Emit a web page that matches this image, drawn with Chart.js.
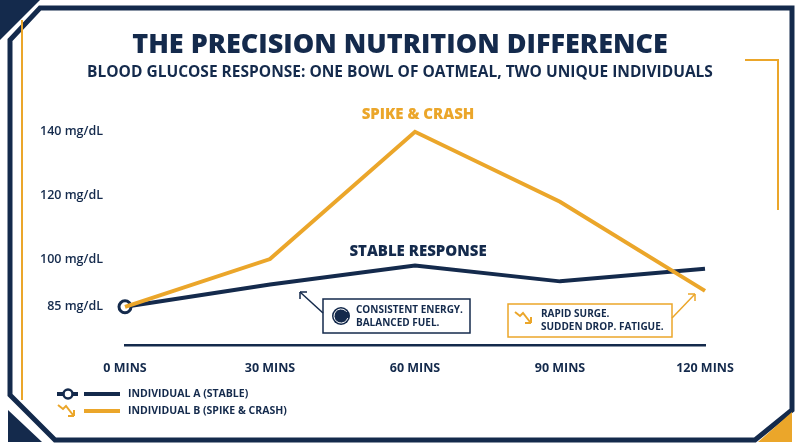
<!DOCTYPE html>
<html lang="en">
<head>
<meta charset="UTF-8" />
<script src="https://cdn.jsdelivr.net/npm/chart.js@4.4.1/dist/chart.umd.min.js"></script>
<style>
  html, body { margin: 0; padding: 0; background: #fff; }
  #wrap { width: 800px; height: 447px; position: relative; }
</style>
</head>
<body>
<div id="wrap"><canvas id="grafico"></canvas></div>
<script>
  var minutos = ['0 MINS', '30 MINS', '60 MINS', '90 MINS', '120 MINS'];
  var individuoA = [85, 92, 98, 93, 97];
  var individuoB = [85, 100, 140, 118, 90];
  var ticksY = [85, 100, 120, 140];

  var NAVY = '#142a4c';
  var GOLD = '#eba62a';
  var FONT = '"Open Sans", Lato, sans-serif';

  // moldura, titulos, anotacoes e legenda
  var decoracao = {
    id: 'decoracao',
    beforeDraw: function (chart) {
      var c = chart.ctx;
      c.save();
      c.fillStyle = '#fff';
      c.fillRect(0, 0, 800, 447);
      // moldura azul
      c.strokeStyle = NAVY;
      c.lineWidth = 5;
      c.beginPath();
      c.moveTo(40, 8); c.lineTo(792, 8); c.lineTo(792, 410); c.lineTo(755, 440);
      c.lineTo(55, 440); c.lineTo(10, 395); c.lineTo(10, 40); c.closePath();
      c.stroke();
      c.fillStyle = NAVY;
      c.beginPath(); c.moveTo(0, 0); c.lineTo(40, 0); c.lineTo(0, 40); c.fill();
      c.beginPath(); c.moveTo(8, 410); c.lineTo(8, 442); c.lineTo(42, 442); c.fill();
      c.fillStyle = GOLD;
      c.beginPath(); c.moveTo(792, 412); c.lineTo(792, 442); c.lineTo(758, 442); c.fill();
      // linhas douradas
      c.strokeStyle = GOLD;
      c.lineWidth = 2;
      c.beginPath(); c.moveTo(22, 20); c.lineTo(22, 400); c.stroke();
      c.beginPath(); c.moveTo(745, 60); c.lineTo(778, 60); c.lineTo(778, 210); c.stroke();
      c.restore();
    },
    afterDatasetsDraw: function (chart) {
      var c = chart.ctx;
      c.save();
      c.textAlign = 'center';
      c.textBaseline = 'middle';
      c.fillStyle = NAVY;
      c.font = '800 27px ' + FONT;
      c.fillText('THE PRECISION NUTRITION DIFFERENCE', 400, 45);
      c.font = '700 15.5px ' + FONT;
      c.fillText('BLOOD GLUCOSE RESPONSE: ONE BOWL OF OATMEAL, TWO UNIQUE INDIVIDUALS', 400, 73);
      c.font = '800 15px ' + FONT;
      c.fillText('STABLE RESPONSE', 418, 252);
      c.fillStyle = GOLD;
      c.fillText('SPIKE & CRASH', 418, 115);

      // caixa azul
      c.strokeStyle = NAVY; c.lineWidth = 1.5;
      c.strokeRect(323, 299, 147, 34);
      c.beginPath(); c.moveTo(323, 313); c.lineTo(300, 292); c.stroke();
      c.beginPath(); c.moveTo(300, 292); c.lineTo(300, 299); c.moveTo(300, 292); c.lineTo(307, 292); c.stroke();
      c.fillStyle = NAVY;
      c.beginPath(); c.arc(341, 316, 9, 0, Math.PI * 2); c.fill();
      c.strokeStyle = '#fff'; c.lineWidth = 1;
      c.beginPath(); c.arc(341, 316, 7, 0.3, Math.PI * 1.8); c.stroke();
      c.textAlign = 'left';
      c.font = '700 10px ' + FONT;
      c.fillText('CONSISTENT ENERGY.', 356, 310);
      c.fillText('BALANCED FUEL.', 356, 323);

      // caixa dourada
      c.strokeStyle = GOLD; c.lineWidth = 1.5;
      c.strokeRect(508, 304, 164, 33);
      c.beginPath(); c.moveTo(672, 318); c.lineTo(695, 294); c.stroke();
      c.beginPath(); c.moveTo(695, 294); c.lineTo(688, 294); c.moveTo(695, 294); c.lineTo(695, 301); c.stroke();
      zigue(c, 515, 312);
      c.fillStyle = NAVY;
      c.fillText('RAPID SURGE.', 541, 314);
      c.fillText('SUDDEN DROP. FATIGUE.', 541, 327);

      // legenda
      c.strokeStyle = NAVY; c.lineWidth = 4;
      c.beginPath(); c.moveTo(57, 394); c.lineTo(78, 394); c.moveTo(84, 394); c.lineTo(120, 394); c.stroke();
      c.fillStyle = '#fff'; c.lineWidth = 2.5;
      c.beginPath(); c.arc(68, 394, 4.5, 0, Math.PI * 2); c.fill(); c.stroke();
      c.strokeStyle = GOLD; c.lineWidth = 4;
      c.beginPath(); c.moveTo(84, 411); c.lineTo(120, 411); c.stroke();
      zigue(c, 58, 405);
      c.fillStyle = NAVY;
      c.font = '700 10.5px ' + FONT;
      c.fillText('INDIVIDUAL A (STABLE)', 128, 394);
      c.fillText('INDIVIDUAL B (SPIKE & CRASH)', 128, 411);
      c.restore();
    }
  };

  function zigue(c, x, y) {
    c.save();
    c.strokeStyle = GOLD; c.lineWidth = 2;
    c.beginPath();
    c.moveTo(x, y); c.lineTo(x + 5, y + 4); c.lineTo(x + 8, y + 1); c.lineTo(x + 15, y + 10);
    c.stroke();
    c.beginPath();
    c.moveTo(x + 16, y + 11); c.lineTo(x + 10, y + 11); c.moveTo(x + 16, y + 11); c.lineTo(x + 16, y + 5);
    c.stroke();
    c.restore();
  }

  var chart = new Chart(document.getElementById('grafico'), {
    type: 'line',
    data: {
      labels: minutos,
      datasets: [
        {
          label: 'Individual B (Spike & Crash)',
          data: individuoB,
          borderColor: GOLD,
          borderWidth: 4,
          pointRadius: 0,
          tension: 0
        },
        {
          label: 'Individual A (Stable)',
          data: individuoA,
          borderColor: NAVY,
          borderWidth: 4,
          pointRadius: [6, 0, 0, 0, 0],
          pointBackgroundColor: '#fff',
          pointBorderColor: NAVY,
          pointBorderWidth: 3,
          tension: 0
        }
      ]
    },
    options: {
      responsive: true,
      maintainAspectRatio: false,
      animation: false,
      layout: { padding: { left: 0, right: 95, top: 100, bottom: 63 } },
      plugins: { legend: { display: false }, tooltip: { enabled: false } },
      scales: {
        x: {
          offset: false,
          grid: { display: false },
          border: { color: NAVY, width: 2.5 },
          ticks: { color: NAVY, font: { family: FONT, size: 12.5, weight: '700' }, padding: 8, maxRotation: 0 }
        },
        y: {
          min: 73,
          max: 150,
          afterFit: function (s) { s.width = 125; },
          afterBuildTicks: function (s) { s.ticks = ticksY.map(function (v) { return { value: v }; }); },
          grid: { display: false },
          border: { display: false },
          ticks: {
            color: NAVY,
            font: { family: FONT, size: 12.5, weight: '600' },
            padding: 14,
            callback: function (v) { return v + ' mg/dL'; }
          }
        }
      }
    },
    plugins: [decoracao]
  });
</script>
</body>
</html>
